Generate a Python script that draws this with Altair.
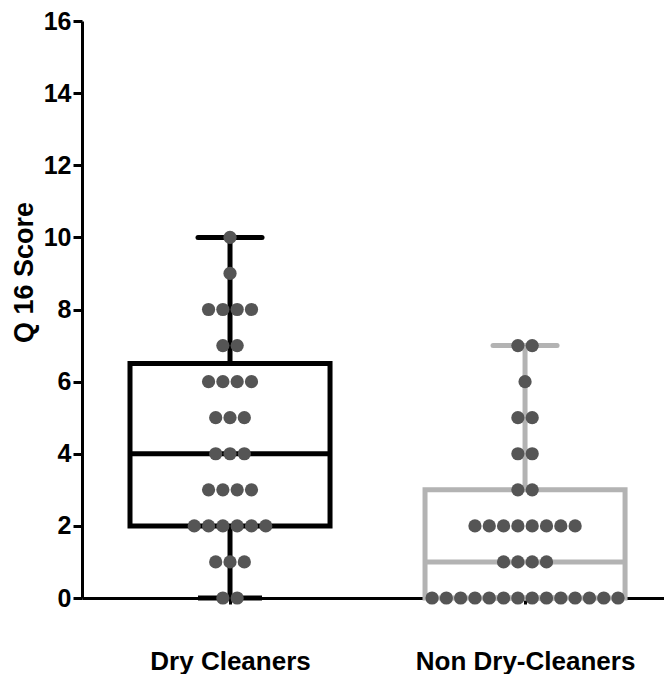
import altair as alt
import pandas as pd
from collections import Counter

groups = ["Dry Cleaners", "Non Dry-Cleaners"]
group_pos = [1, 2]
box_colors = ["#000000", "#b3b3b3"]

dry_scores = [10, 9, 8, 8, 8, 8, 7, 7, 6, 6, 6, 6, 5, 5, 5, 4, 4, 4,
              3, 3, 3, 3, 2, 2, 2, 2, 2, 2, 1, 1, 1, 0, 0]
non_scores = [7, 7, 6, 5, 5, 4, 4, 3, 3, 2, 2, 2, 2, 2, 2, 2, 2,
              1, 1, 1, 1, 0, 0, 0, 0, 0, 0, 0, 0, 0, 0, 0, 0, 0, 0]

box_min = [0, 0]
box_q1 = [2, 0]
box_median = [4, 1]
box_q3 = [6.5, 3]
box_max = [10, 7]

y_ticks = list(range(0, 17, 2))

BOX_HALF = 0.339
CAP_HALF = 0.1085
DOT_STEP = 0.0485

# box data
box_df = pd.DataFrame({
    "group": groups, "pos": group_pos, "color": box_colors,
    "lo": box_min, "q1": box_q1, "med": box_median, "q3": box_q3, "hi": box_max,
})
box_df["left"] = box_df["pos"] - BOX_HALF
box_df["right"] = box_df["pos"] + BOX_HALF
box_df["capl"] = box_df["pos"] - CAP_HALF
box_df["capr"] = box_df["pos"] + CAP_HALF

# dot data (beeswarm rows)
rows = []
for g, p, scores in zip(groups, group_pos, [dry_scores, non_scores]):
    cnt = Counter(scores)
    for v, n in cnt.items():
        for i in range(n):
            rows.append({"group": g, "score": v, "x": p + (i - (n - 1) / 2) * DOT_STEP})
dots_df = pd.DataFrame(rows)

xscale = alt.Scale(domain=[0.4983, 2.4710], nice=False, zero=False)
yscale = alt.Scale(domain=[0, 16], nice=False, zero=True)

label_expr = f"datum.value == 1 ? '{groups[0]}' : '{groups[1]}'"

xaxis = alt.Axis(values=group_pos, labelExpr=label_expr, title=None, grid=False,
                 domainWidth=3, domainColor="black", tickWidth=3, tickSize=6,
                 tickColor="black", labelFont="Liberation Sans", labelFontWeight="bold",
                 labelFontSize=26, labelColor="black", labelBaseline="top",
                 labelPadding=44, labelAlign="center", labelLimit=0)
yaxis = alt.Axis(values=y_ticks, title="Q 16 Score", grid=False,
                 domainWidth=3, domainColor="black", tickWidth=3, tickSize=9,
                 tickColor="black", labelFont="Liberation Sans", labelFontWeight="bold",
                 labelFontSize=25, labelColor="black", labelPadding=2,
                 titleFont="Liberation Sans", titleFontWeight="bold", titleFontSize=27,
                 titleColor="black", titleAngle=270, titleAlign="center",
                 titleBaseline="middle", titleX=-58, titleY=251)

base_box = alt.Chart(box_df)
color_enc = alt.Color("color:N", scale=None, legend=None)

rect = base_box.mark_rect(fillOpacity=0, strokeWidth=5, strokeJoin="miter").encode(
    x=alt.X("left:Q", scale=xscale, axis=xaxis),
    x2="right:Q",
    y=alt.Y("q1:Q", scale=yscale, axis=yaxis),
    y2="q3:Q",
    stroke=alt.Stroke("color:N", scale=None, legend=None),
)
whisk_lo = base_box.mark_rule(strokeWidth=5).encode(
    x=alt.X("pos:Q", scale=xscale), y=alt.Y("lo:Q", scale=yscale), y2="q1:Q", color=color_enc)
whisk_hi = base_box.mark_rule(strokeWidth=5).encode(
    x=alt.X("pos:Q", scale=xscale), y=alt.Y("q3:Q", scale=yscale), y2="hi:Q", color=color_enc)
cap_hi = base_box.mark_rule(strokeWidth=5, strokeCap="round").encode(
    x=alt.X("capl:Q", scale=xscale), x2="capr:Q", y=alt.Y("hi:Q", scale=yscale), color=color_enc)
cap_lo = base_box.mark_rule(strokeWidth=5).encode(
    x=alt.X("capl:Q", scale=xscale), x2="capr:Q", y=alt.Y("lo:Q", scale=yscale), color=color_enc)
median = base_box.mark_rule(strokeWidth=5).encode(
    x=alt.X("left:Q", scale=xscale), x2="right:Q", y=alt.Y("med:Q", scale=yscale), color=color_enc)

dots = alt.Chart(dots_df).mark_circle(size=175, opacity=1, color="#555555").encode(
    x=alt.X("x:Q", scale=xscale), y=alt.Y("score:Q", scale=yscale))

chart = alt.layer(rect, whisk_lo, whisk_hi, cap_lo, cap_hi, median, dots).properties(
    width=582, height=577,
    autosize=alt.AutoSizeParams(type="none"),
    padding={"left": 74, "top": 13, "right": 0, "bottom": 76},
).configure_view(stroke=None)

chart.save("out.html", embed_options={"renderer": "svg", "actions": False})
